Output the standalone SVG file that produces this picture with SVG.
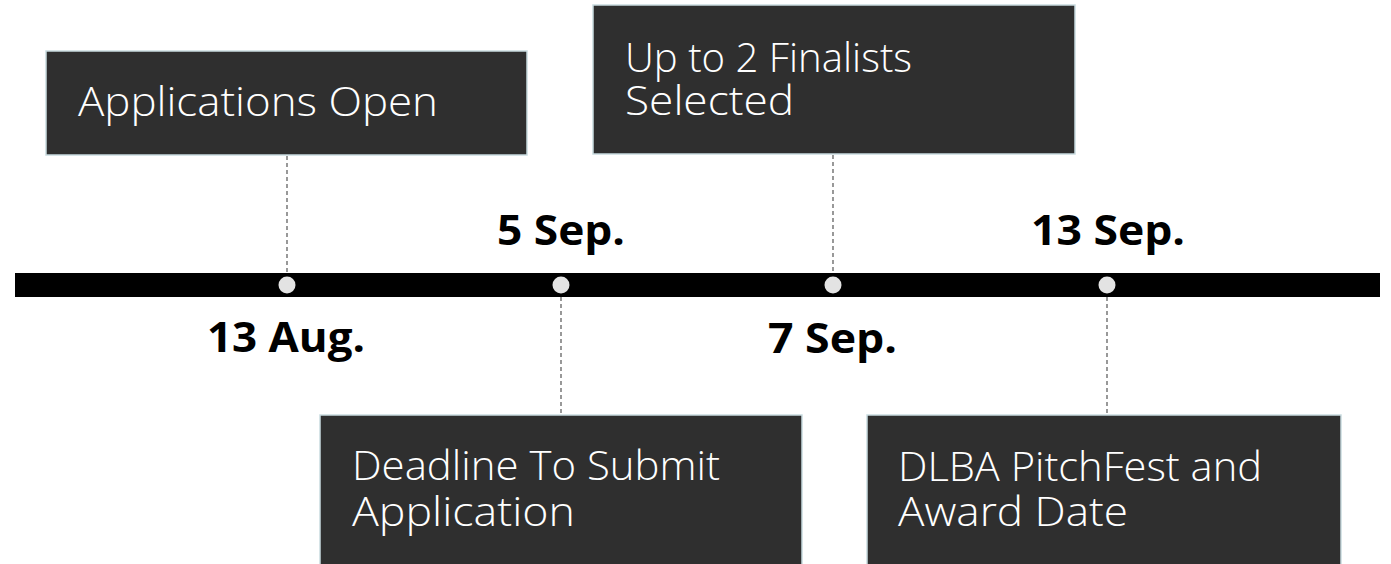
<svg xmlns="http://www.w3.org/2000/svg" width="1391" height="564" viewBox="0 0 1391 564">
<style>
.box{fill:#2f2f2f;stroke:#c9dbe0;stroke-width:1.5}
.bt{fill:#ffffff;font-family:"Open Sans","Liberation Sans",sans-serif;font-weight:300;font-size:40px}
.dt{fill:#000000;font-family:"Open Sans","Liberation Sans",sans-serif;font-weight:700;font-size:42px}
.dash{stroke:#555555;stroke-width:1.2;stroke-dasharray:4 3;fill:none}
.dot{fill:#e3e3e3}
</style>
<rect width="1391" height="564" fill="#ffffff"/>
<g id="connectors">
<line class="dash" x1="287" y1="156" x2="287" y2="273"/>
<line class="dash" x1="833" y1="155" x2="833" y2="273"/>
<line class="dash" x1="561" y1="297" x2="561" y2="415"/>
<line class="dash" x1="1107" y1="297" x2="1107" y2="415"/>
</g>
<g id="timeline">
<rect x="15" y="273" width="1365" height="24" fill="#000000"/>
<circle class="dot" cx="287" cy="285" r="8.5"/>
<circle class="dot" cx="561" cy="285" r="8.5"/>
<circle class="dot" cx="833" cy="285" r="8.5"/>
<circle class="dot" cx="1107" cy="285" r="8.5"/>
</g>
<g id="node-applications-open">
<rect class="box" x="46" y="51" width="481" height="104"/>
<text class="bt" x="78" y="116" textLength="360" lengthAdjust="spacingAndGlyphs">Applications Open</text>
</g>
<g id="node-finalists">
<rect class="box" x="593" y="5" width="482" height="149"/>
<text class="bt" x="625" y="72" textLength="287" lengthAdjust="spacingAndGlyphs">Up to 2 Finalists</text>
<text class="bt" x="625" y="115" textLength="169" lengthAdjust="spacingAndGlyphs">Selected</text>
</g>
<g id="node-deadline">
<rect class="box" x="320" y="415" width="482" height="160"/>
<text class="bt" x="352" y="480" textLength="368" lengthAdjust="spacingAndGlyphs">Deadline To Submit</text>
<text class="bt" x="352" y="526" textLength="223" lengthAdjust="spacingAndGlyphs">Application</text>
</g>
<g id="node-pitchfest">
<rect class="box" x="867" y="415" width="474" height="160"/>
<text class="bt" x="898" y="481" textLength="364" lengthAdjust="spacingAndGlyphs">DLBA PitchFest and</text>
<text class="bt" x="898" y="526" textLength="230" lengthAdjust="spacingAndGlyphs">Award Date</text>
</g>
<g id="date-13aug"><text class="dt" x="207" y="352" textLength="158" lengthAdjust="spacingAndGlyphs">13 Aug.</text></g>
<g id="date-5sep"><text class="dt" x="497" y="245" textLength="128" lengthAdjust="spacingAndGlyphs">5 Sep.</text></g>
<g id="date-7sep"><text class="dt" x="768" y="353" textLength="129" lengthAdjust="spacingAndGlyphs">7 Sep.</text></g>
<g id="date-13sep"><text class="dt" x="1031" y="245" textLength="154" lengthAdjust="spacingAndGlyphs">13 Sep.</text></g>
</svg>
